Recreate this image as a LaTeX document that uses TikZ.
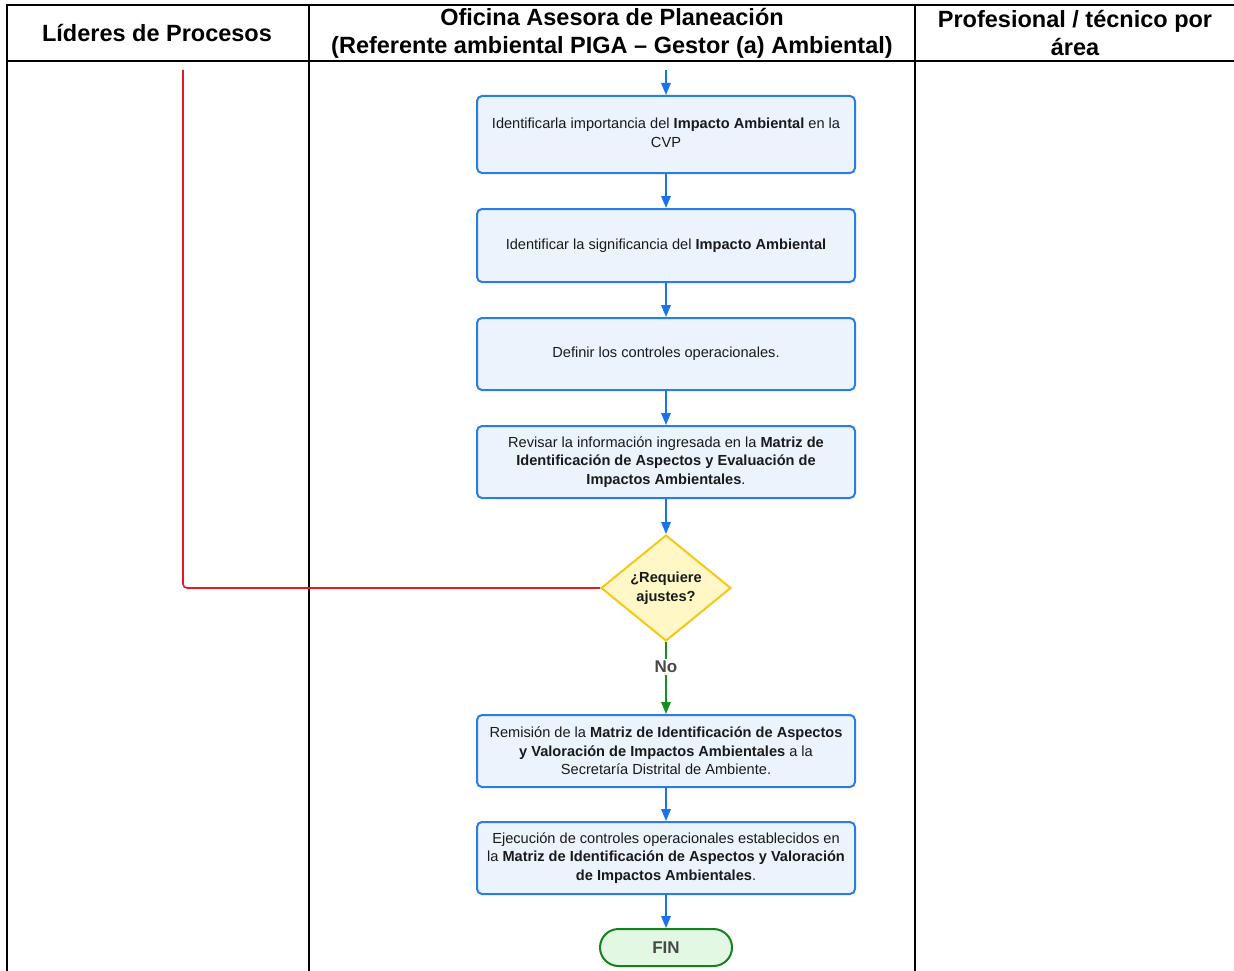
\documentclass[tikz,border=0pt]{standalone}
\usepackage{fontspec}
\setmainfont{Liberation Sans}
\usetikzlibrary{shapes.geometric,shapes.misc,arrows.meta}
\definecolor{boxblue}{HTML}{2B7DE3}
\definecolor{boxfill}{HTML}{EBF3FD}
\definecolor{arrblue}{HTML}{1A73E8}
\definecolor{dfill}{HTML}{FFF8C6}
\definecolor{ddraw}{HTML}{F5C816}
\definecolor{gline}{HTML}{15911F}
\definecolor{gfill}{HTML}{E2F8E2}
\definecolor{rline}{HTML}{E8181E}
\definecolor{txt}{HTML}{1A1A1A}
\tikzset{
  tline/.style={line width=2.5pt,black},
  headtxt/.style={font=\fontsize{23.5}{28}\selectfont\bfseries,align=center,inner sep=0pt},
  procbox/.style={rectangle,rounded corners=5pt,draw=boxblue,fill=boxfill,line width=2pt,
     minimum width=378pt,align=center,text=txt,font=\fontsize{14.6}{18.5}\selectfont,inner sep=0pt},
  decbox/.style={diamond,draw=ddraw,fill=dfill,line width=2pt,minimum width=130pt,minimum height=106pt,
     inner sep=0pt,align=center,text=txt,font=\fontsize{14.6}{18.5}\selectfont\bfseries},
  endbox/.style={rounded rectangle,draw=gline!90!black,fill=gfill,line width=2pt,minimum width=132pt,
     minimum height=37pt,inner sep=0pt,text=txt!80!white,font=\fontsize{17}{20}\selectfont\bfseries},
  bluearr/.style={draw=arrblue,line width=1.6pt,-{Triangle[length=12pt,width=9.5pt]}},
  greenarr/.style={draw=gline,line width=1.6pt,-{Triangle[length=12pt,width=9.5pt]}},
  redline/.style={draw=rline,line width=1.6pt,rounded corners=4pt},
  nolabel/.style={fill=white,inner sep=2pt,text=txt!80!white,font=\fontsize{17}{20}\selectfont\bfseries},
}
\begin{document}
\begin{tikzpicture}[x=1pt,y=-1pt]
\useasboundingbox (0,0) rectangle (1234,971);
% table
\draw[tline] (7,5) -- (1234,5);
\draw[tline] (7,61) -- (1234,61);
\draw[tline] (7,4) -- (7,971);
\draw[tline] (309,4) -- (309,971);
\draw[tline] (915,4) -- (915,971);
\node[headtxt] (h1) at (157,33) {Líderes de Procesos};
\node[headtxt] (h2) at (612,33) {Oficina Asesora de Planeación\\(Referente ambiental PIGA – Gestor (a) Ambiental)};
\node[headtxt] (h3) at (1075,33) {Profesional / técnico por\\área};
% nodes
\coordinate (start) at (666,70);
\node[procbox,minimum height=77pt] (b1) at (666,134.5) {\raisebox{4pt}{\begin{tabular}{@{}c@{}}Identificarla importancia del \textbf{Impacto Ambiental} en la\\CVP\end{tabular}}};
\node[procbox,minimum height=73pt] (b2) at (666,245.5) {Identificar la significancia del \textbf{Impacto Ambiental}};
\node[procbox,minimum height=72pt] (b3) at (666,354) {Definir los controles operacionales.};
\node[procbox,minimum height=72pt] (b4) at (666,462) {Revisar la información ingresada en la \textbf{Matriz de}\\\textbf{Identificación de Aspectos y Evaluación de}\\\textbf{Impactos Ambientales}.};
\node[decbox] (d1) at (666,588) {¿Requiere\\ajustes?};
\node[procbox,minimum height=72pt] (b5) at (666,751) {Remisión de la \textbf{Matriz de Identificación de Aspectos}\\\textbf{y Valoración de Impactos Ambientales} a la\\Secretaría Distrital de Ambiente.};
\node[procbox,minimum height=72pt] (b6) at (666,858) {Ejecución de controles operacionales establecidos en\\la \textbf{Matriz de Identificación de Aspectos y Valoración}\\\textbf{de Impactos Ambientales}.};
\node[endbox] (fin) at (666,947.5) {FIN};
\coordinate (rtop) at (183,70);
% connectors
\draw[bluearr] (start) -- (b1.north);
\draw[bluearr] (b1.south) -- (b2.north);
\draw[bluearr] (b2.south) -- (b3.north);
\draw[bluearr] (b3.south) -- (b4.north);
\draw[bluearr] (b4.south) -- (d1.north);
\draw[greenarr] (d1.south) -- node[nolabel,pos=0.35] (no) {No} (b5.north);
\draw[bluearr] (b5.south) -- (b6.north);
\draw[bluearr] (b6.south) -- (fin.north);
\draw[redline] (d1.west) -- (rtop |- d1.west) -- (rtop);
\end{tikzpicture}
\end{document}
